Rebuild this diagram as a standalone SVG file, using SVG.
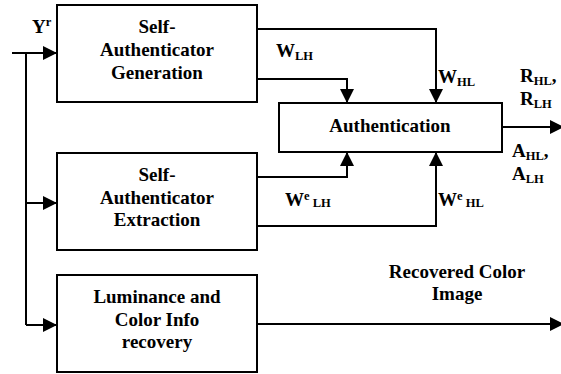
<svg xmlns="http://www.w3.org/2000/svg" width="561" height="374" viewBox="0 0 561 374">
<style>
.box{fill:#fff;stroke:#000;stroke-width:2}
.ln{fill:none;stroke:#000;stroke-width:2}
.c{text-anchor:middle}
</style>
<defs>
<marker id="ah" markerUnits="userSpaceOnUse" markerWidth="15" markerHeight="15" refX="14" refY="7" orient="auto">
<path d="M0,0 L14,7 L0,14 z" fill="#000"/>
</marker>
</defs>
<rect width="561" height="374" fill="#fff"/>
<g id="connectors">
<path class="ln" d="M12,53 H57" marker-end="url(#ah)"/>
<path class="ln" d="M26,53 V325"/>
<path class="ln" d="M26,203 H57" marker-end="url(#ah)"/>
<path class="ln" d="M26,325 H57" marker-end="url(#ah)"/>
<path class="ln" d="M257,29 H436 V103" marker-end="url(#ah)"/>
<path class="ln" d="M257,79 H347 V103" marker-end="url(#ah)"/>
<path class="ln" d="M257,177 H347 V152" marker-end="url(#ah)"/>
<path class="ln" d="M257,226 H436 V152" marker-end="url(#ah)"/>
<path class="ln" d="M502,127 H564" marker-end="url(#ah)"/>
<path class="ln" d="M257,324 H564" marker-end="url(#ah)"/>
</g>
<g id="gen">
<rect class="box" x="57" y="5" width="200" height="97"/>
<text class="c" x="157" y="33" font-family="Liberation Serif" font-weight="bold" font-size="19">Self-</text>
<text class="c" x="157" y="56" font-family="Liberation Serif" font-weight="bold" font-size="19">Authenticator</text>
<text class="c" x="157" y="79" font-family="Liberation Serif" font-weight="bold" font-size="19">Generation</text>
</g>
<g id="ext">
<rect class="box" x="57" y="153" width="200" height="97"/>
<text class="c" x="157" y="181" font-family="Liberation Serif" font-weight="bold" font-size="19">Self-</text>
<text class="c" x="157" y="204" font-family="Liberation Serif" font-weight="bold" font-size="19">Authenticator</text>
<text class="c" x="157" y="226" font-family="Liberation Serif" font-weight="bold" font-size="19">Extraction</text>
</g>
<g id="lum">
<rect class="box" x="57" y="275" width="200" height="97"/>
<text class="c" x="157" y="303" font-family="Liberation Serif" font-weight="bold" font-size="19">Luminance and</text>
<text class="c" x="157" y="326" font-family="Liberation Serif" font-weight="bold" font-size="19">Color Info</text>
<text class="c" x="157" y="348" font-family="Liberation Serif" font-weight="bold" font-size="19">recovery</text>
</g>
<g id="auth">
<rect class="box" x="279" y="103" width="223" height="49"/>
<text class="c" x="390" y="132" font-family="Liberation Serif" font-weight="bold" font-size="19">Authentication</text>
</g>
<g id="labels">
<text x="32" y="33" font-family="Liberation Serif" font-weight="bold" font-size="19">Y<tspan font-size="12.5" dy="-7">r</tspan></text>
<text x="276" y="57" font-family="Liberation Serif" font-weight="bold" font-size="19">W<tspan font-size="12.5" dy="3">LH</tspan></text>
<text x="438" y="83" font-family="Liberation Serif" font-weight="bold" font-size="19">W<tspan font-size="12.5" dy="3">HL</tspan></text>
<text x="520" y="82" font-family="Liberation Serif" font-weight="bold" font-size="19">R<tspan font-size="12.5" dy="3">HL</tspan><tspan dy="-3">,</tspan></text>
<text x="520" y="105" font-family="Liberation Serif" font-weight="bold" font-size="19">R<tspan font-size="12.5" dy="3">LH</tspan></text>
<text x="512" y="157" font-family="Liberation Serif" font-weight="bold" font-size="19">A<tspan font-size="12.5" dy="3">HL</tspan><tspan dy="-3">,</tspan></text>
<text x="512" y="180" font-family="Liberation Serif" font-weight="bold" font-size="19">A<tspan font-size="12.5" dy="3">LH</tspan></text>
<text x="285" y="206" font-family="Liberation Serif" font-weight="bold" font-size="19">W<tspan font-size="12.5" dy="-6">e</tspan><tspan font-size="12.5" dy="7"> LH</tspan></text>
<text x="438" y="206" font-family="Liberation Serif" font-weight="bold" font-size="19">W<tspan font-size="12.5" dy="-6">e</tspan><tspan font-size="12.5" dy="7"> HL</tspan></text>
<text class="c" x="457" y="278" font-family="Liberation Serif" font-weight="bold" font-size="19">Recovered Color</text>
<text class="c" x="457" y="300" font-family="Liberation Serif" font-weight="bold" font-size="19">Image</text>
</g>
</svg>
